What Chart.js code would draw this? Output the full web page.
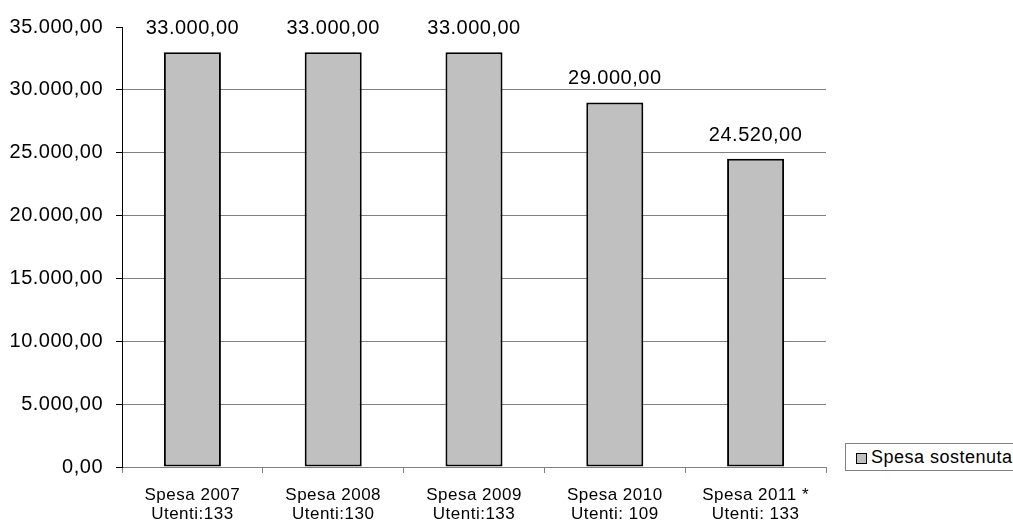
<!DOCTYPE html>
<html>
<head>
<meta charset="utf-8">
<script src="https://cdn.jsdelivr.net/npm/chart.js@4.4.1/dist/chart.umd.min.js"></script>
<style>
    html, body { margin: 0; padding: 0; background: #fff; }
    #wrap { position: relative; width: 1013px; height: 524px; overflow: hidden; }
    #legenda {
        position: absolute; left: 845px; top: 443px; width: 200px; height: 26px;
        border: 1px solid #808080; background: #fff;
        font-family: "Liberation Sans", Arial, sans-serif; font-size: 18px; color: #000;
        letter-spacing: 0.5px; line-height: 26px; white-space: nowrap;
    }
    #legenda span.box {
        display: inline-block; width: 9px; height: 9px; background: #c0c0c0;
        border: 1px solid #000; margin: 0 4px 0 10px; vertical-align: -1px;
    }
</style>
</head>
<body>
<div id="wrap">
    <canvas id="grafico" width="1013" height="524"></canvas>
    <div id="legenda"><span class="box"></span>Spesa sostenuta</div>
</div>
<script>
const categorie = [
    ['Spesa 2007', 'Utenti:133'],
    ['Spesa 2008', 'Utenti:130'],
    ['Spesa 2009', 'Utenti:133'],
    ['Spesa 2010', 'Utenti: 109'],
    ['Spesa 2011 *', 'Utenti: 133']
];
const spesa = [33000, 33000, 33000, 29000, 24520];
const nomeSerie = 'Spesa sostenuta';

function formatoEuro(v) {
    // 33000 -> 33.000,00
    const intero = Math.round(v).toString().replace(/\B(?=(\d{3})+(?!\d))/g, '.');
    return intero + ',00';
}

// testo un po' piu' largo, come nell'originale
const spaziatura = {
    id: 'spaziatura',
    beforeDraw(chart) {
        chart.ctx.letterSpacing = '0.5px';
    }
};

// etichette sopra le barre
const etichetteBarre = {
    id: 'etichetteBarre',
    afterDatasetsDraw(chart) {
        const ctx = chart.ctx;
        const meta = chart.getDatasetMeta(0);
        ctx.save();
        ctx.font = '20px "Liberation Sans", Arial, sans-serif';
        ctx.fillStyle = '#000';
        ctx.textAlign = 'center';
        ctx.textBaseline = 'alphabetic';
        meta.data.forEach((bar, i) => {
            ctx.fillText(formatoEuro(spesa[i]), bar.x, bar.y - 18);
        });
        ctx.restore();
    }
};

const ctx = document.getElementById('grafico').getContext('2d');
new Chart(ctx, {
    type: 'bar',
    data: {
        labels: categorie,
        datasets: [{
            label: nomeSerie,
            data: spesa,
            backgroundColor: '#c0c0c0',
            borderColor: '#000',
            borderWidth: 2,
            borderSkipped: false,
            barPercentage: 0.405,
            categoryPercentage: 1
        }]
    },
    options: {
        responsive: false,
        animation: false,
        layout: { padding: { left: 0, right: 187, top: 27, bottom: 0 } },
        plugins: {
            legend: { display: false },
            tooltip: { enabled: false }
        },
        scales: {
            x: {
                afterFit: s => { s.height = 57; },
                border: { color: '#808080', width: 1 },
                grid: {
                    offset: true,
                    drawOnChartArea: false,
                    tickLength: 6,
                    tickColor: '#808080'
                },
                ticks: {
                    color: '#000',
                    padding: 13,
                    maxRotation: 0,
                    font: { family: '"Liberation Sans", Arial, sans-serif', size: 17, lineHeight: 1.12 }
                }
            },
            y: {
                min: 0,
                max: 35000,
                afterFit: s => { s.width = 122; },
                border: { color: '#000', width: 1 },
                grid: {
                    color: c => (c.tick && c.tick.value === 35000) ? 'rgba(0,0,0,0)' : '#808080',
                    tickColor: '#000',
                    tickLength: 6
                },
                ticks: {
                    stepSize: 5000,
                    color: '#000',
                    padding: 13,
                    font: { family: '"Liberation Sans", Arial, sans-serif', size: 20 },
                    callback: v => formatoEuro(v)
                }
            }
        }
    },
    plugins: [spaziatura, etichetteBarre]
});
</script>
</body>
</html>
